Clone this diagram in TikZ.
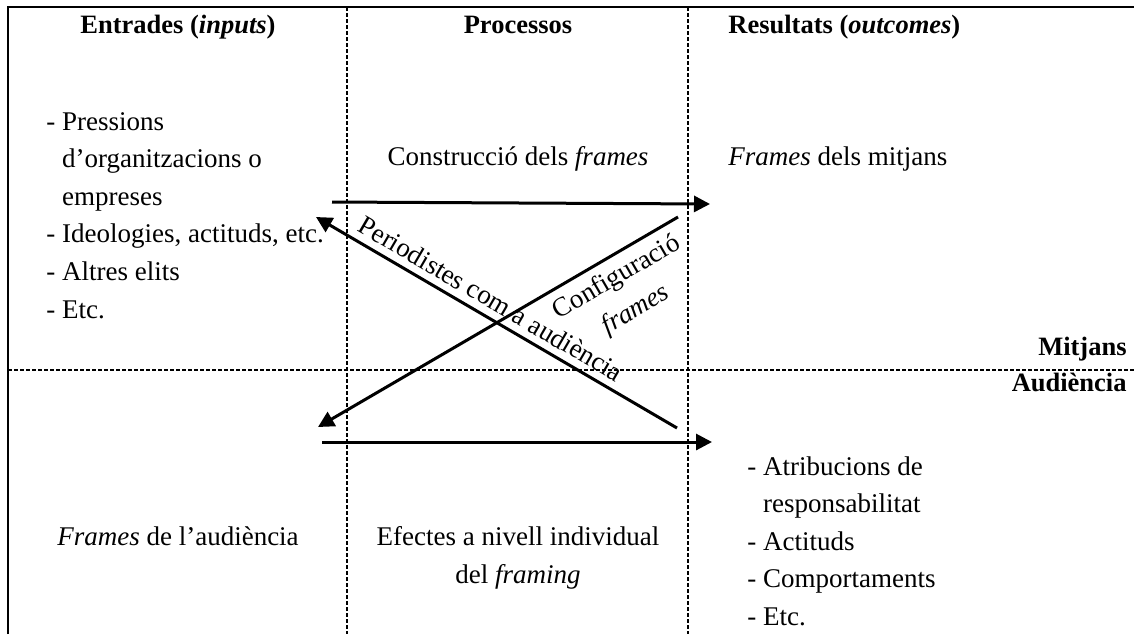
\documentclass[tikz,border=0pt]{standalone}
\usepackage{fontspec}
\setmainfont{Liberation Serif}
\usetikzlibrary{arrows.meta}

\begin{document}
\begin{tikzpicture}[x=0.5pt, y=-0.5pt,
		every node/.style={font=\fontsize{13.5}{18.8}\selectfont, inner sep=0pt},
		heading/.style={font=\fontsize{13.25}{18.8}\selectfont\bfseries, anchor=base},
		border/.style={line width=1.3pt},
		divider/.style={line width=0.85pt, dash pattern=on 2pt off 1pt},
		arr/.style={line width=1.5pt, -{Triangle[length=8pt, width=8pt]}}]

			\useasboundingbox (0,0) rectangle (1134,634);

			% Frame and dividers
			\draw[border] (8,634) -- (8,7) -- (1134,7);
			\draw[divider] (347,7) -- (347,634);
			\draw[divider] (688,7) -- (688,634);
			\draw[divider] (8,370) -- (1134,370);

			% Column headings
			\node[heading] (entrades) at (178,33) {Entrades (\textit{inputs})};
			\node[heading] (processos) at (518,33) {Processos};
			\node[heading, anchor=base west] (resultats) at (728,33) {Resultats (\textit{outcomes})};

			% Row labels
			\node[heading, anchor=base east] (mitjans) at (1127,355) {Mitjans};
			\node[heading, anchor=base east] (audiencia) at (1127,391) {Audiència};

			% Media row
			\node[anchor=base west] (inputs) at (46,130) {\begin{tabular}[t]{@{}l@{\ }l@{}}
					- & Pressions\\
					& d’organitzacions o\\
					& empreses\\
					- & Ideologies, actituds, etc.\\
					- & Altres elits\\
					- & Etc.
				\end{tabular}};
			\node[anchor=base] (construccio) at (518,165) {Construcció dels \textit{frames}};
			\node[anchor=base west] (framesmitjans) at (728,165) {\textit{Frames} dels mitjans};

			% Audience row (base of a two-line node is its last line)
			\node[anchor=base] (framesaud) at (178,545) {\textit{Frames} de l’audiència};
			\node[anchor=base, align=center] (efectes) at (518,583) {Efectes a nivell individual\\del \textit{framing}};
			\node[anchor=base west] (outcomes) at (747,475) {\begin{tabular}[t]{@{}l@{\ }l@{}}
					- & Atribucions de\\
					& responsabilitat\\
					- & Actituds\\
					- & Comportaments\\
					- & Etc.
				\end{tabular}};

			% Arrow ends
			\coordinate (topA) at (332,202);
			\coordinate (topB) at (710,204);
			\coordinate (botA) at (322,442);
			\coordinate (botB) at (712,442);
			\coordinate (perA) at (677,428);
			\coordinate (perB) at (316,217);
			\coordinate (confA) at (678,217);
			\coordinate (confB) at (318,427);

			% Arrows
			\draw[arr] (topA) -- (topB);
			\draw[arr] (botA) -- (botB);
			\draw[arr] (perA) -- node[sloped, above=3.5pt, pos=0.54] (periodistes) {Periodistes com a audiència} (perB);
			\draw[arr] (confA) -- node[sloped, below=4pt, pos=0.2, align=center] (configuracio) {Configuració\\\textit{frames}} (confB);

		\end{tikzpicture}
\end{document}
